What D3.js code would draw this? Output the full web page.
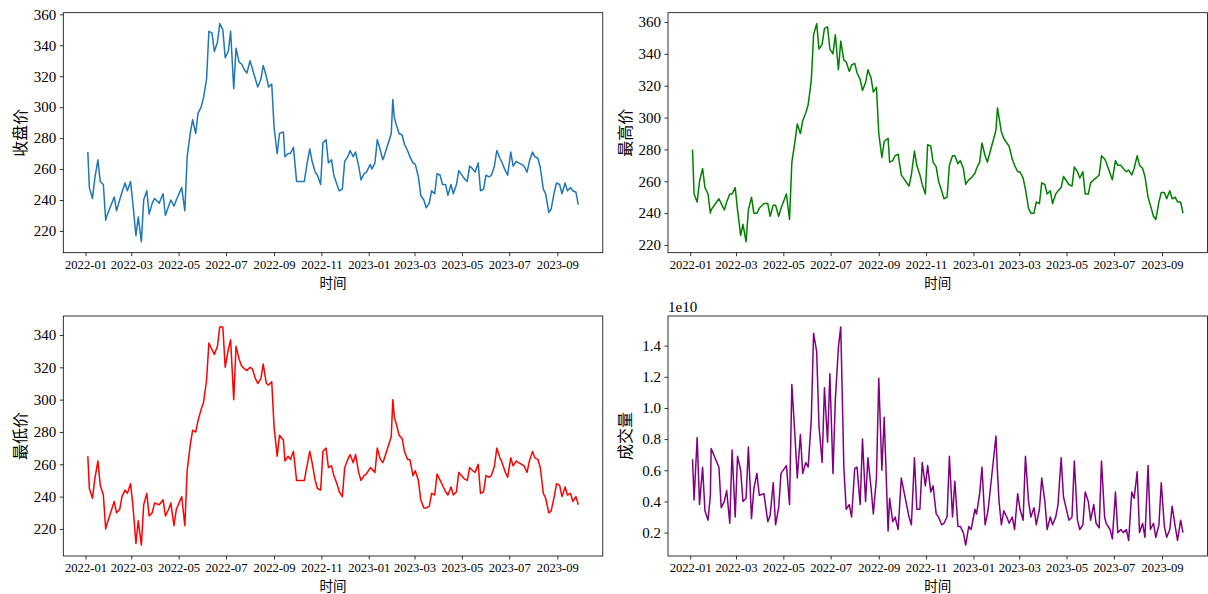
<!DOCTYPE html>
<html>
<head>
<meta charset="utf-8">
<script src="https://cdn.jsdelivr.net/npm/d3@7"></script>
<style>
  body { margin: 0; background: #fff; }
  .tick text { font-family: "Liberation Serif", "Times New Roman", serif; fill: #000; }
  .tick line { stroke: #000; stroke-width: 0.8; }
  .cjk { font-family: "Noto Sans CJK SC", sans-serif; fill: #000; }
</style>
</head>
<body>
<svg id="chart" width="1208" height="594"></svg>
<script>
// trading days (about two per week)
const dates = [
  '2022-01-04','2022-01-06','2022-01-10','2022-01-13','2022-01-17','2022-01-20','2022-01-24','2022-01-27','2022-01-28',
  '2022-02-07','2022-02-10','2022-02-14','2022-02-17','2022-02-21','2022-02-24','2022-02-28',
  '2022-03-03','2022-03-07','2022-03-10','2022-03-14','2022-03-17','2022-03-21','2022-03-24','2022-03-28','2022-03-31',
  '2022-04-06','2022-04-11','2022-04-14','2022-04-18','2022-04-21','2022-04-25','2022-04-28',
  '2022-05-05','2022-05-09','2022-05-12','2022-05-16','2022-05-19','2022-05-23','2022-05-26','2022-05-30',
  '2022-06-02','2022-06-06','2022-06-09','2022-06-13','2022-06-16','2022-06-20','2022-06-23','2022-06-27','2022-06-30',
  '2022-07-04','2022-07-07','2022-07-11','2022-07-14','2022-07-18','2022-07-21','2022-07-25','2022-07-28',
  '2022-08-01','2022-08-04','2022-08-08','2022-08-11','2022-08-15','2022-08-18','2022-08-22','2022-08-25','2022-08-29',
  '2022-09-01','2022-09-05','2022-09-08','2022-09-13','2022-09-15','2022-09-19','2022-09-22','2022-09-26','2022-09-30',
  '2022-10-10','2022-10-13','2022-10-17','2022-10-20','2022-10-24','2022-10-27','2022-10-31',
  '2022-11-03','2022-11-07','2022-11-10','2022-11-14','2022-11-17','2022-11-21','2022-11-24','2022-11-28',
  '2022-12-01','2022-12-05','2022-12-08','2022-12-12','2022-12-15','2022-12-19','2022-12-22','2022-12-26','2022-12-29',
  '2023-01-03','2023-01-05','2023-01-09','2023-01-12','2023-01-16','2023-01-19','2023-01-20','2023-01-30',
  '2023-02-01','2023-02-03','2023-02-06','2023-02-09','2023-02-13','2023-02-16','2023-02-20','2023-02-23','2023-02-27',
  '2023-03-02','2023-03-06','2023-03-09','2023-03-13','2023-03-16','2023-03-20','2023-03-23','2023-03-27','2023-03-30',
  '2023-04-03','2023-04-06','2023-04-10','2023-04-13','2023-04-17','2023-04-20','2023-04-24','2023-04-27',
  '2023-05-04','2023-05-08','2023-05-11','2023-05-15','2023-05-18','2023-05-22','2023-05-25','2023-05-29',
  '2023-06-01','2023-06-05','2023-06-08','2023-06-12','2023-06-15','2023-06-19','2023-06-21','2023-06-26','2023-06-29',
  '2023-07-03','2023-07-06','2023-07-10','2023-07-13','2023-07-17','2023-07-20','2023-07-24','2023-07-27','2023-07-31',
  '2023-08-03','2023-08-07','2023-08-10','2023-08-14','2023-08-17','2023-08-21','2023-08-24','2023-08-28','2023-08-31',
  '2023-09-04','2023-09-07','2023-09-11','2023-09-14','2023-09-18','2023-09-21','2023-09-25','2023-09-28'
];

const closePrice = [
  271,248,241,254,266,252,250,227,229,
  242,233,240,245,251,246,252,
  238,217,229,213,240,246,231,238,241,
  238,244,230,236,240,236,240,
  248,233,268,283,292,283,296,300,
  306,318,349,348,336,342,354,350,332,
  336,349,312,338,329,328,324,322,
  330,325,318,313,318,327,320,313,315,
  287,270,283,284,268,270,270,274,252,
  252,262,273,265,258,256,250,
  277,279,264,266,256,250,246,247,
  265,268,272,268,271,262,253,257,258,
  263,260,264,279,272,266,267,283,
  305,293,288,283,282,276,272,268,264,
  263,255,243,240,235,238,246,244,257,
  256,250,250,243,250,244,250,259,
  254,252,262,260,258,264,246,247,
  256,255,256,262,272,267,265,259,256,
  271,262,265,264,263,262,258,265,271,
  268,267,261,247,244,232,234,245,251,
  250,244,251,246,248,246,245,237
];

const highPrice = [
  280,252,247,260,268,256,252,240,242,
  249,246,242,247,252,252,256,
  242,226,233,222,242,250,240,240,243,
  246,246,238,245,245,238,243,
  252,236,272,285,296,290,298,303,
  308,323,352,359,343,346,356,357,343,
  340,352,330,348,336,335,329,333,
  334,328,324,317,322,330,325,316,319,
  290,275,285,287,272,273,276,277,264,
  257,264,279,270,264,258,252,
  283,282,272,269,260,254,249,250,
  270,276,276,271,273,268,258,261,262,
  265,268,272,284,276,272,274,292,
  306,300,291,287,284,282,274,270,266,
  266,262,255,243,240,240,247,246,259,
  258,252,254,246,252,254,256,263,
  258,257,269,266,262,266,252,252,
  259,261,262,264,276,274,272,265,261,
  273,270,270,268,266,267,264,268,276,
  270,268,263,250,245,238,236,247,253,
  253,249,254,249,250,247,247,240
];

const lowPrice = [
  265,245,239,251,262,247,241,220,222,
  237,230,232,240,244,242,248,
  235,211,225,210,235,242,228,230,236,
  235,238,228,232,236,222,232,
  240,222,256,272,281,280,287,294,
  298,312,335,331,328,333,345,345,320,
  331,337,300,333,325,321,319,318,
  320,319,313,310,313,322,310,309,311,
  283,265,278,275,262,265,263,268,250,
  250,258,268,261,250,245,244,
  268,270,258,259,253,248,243,240,
  258,263,266,261,266,255,250,253,254,
  258,257,255,270,263,261,262,277,
  300,289,284,278,276,268,263,263,253,
  256,250,238,233,233,234,242,241,254,
  250,247,243,241,246,241,243,255,
  251,250,258,256,255,260,242,243,
  253,252,253,259,270,264,262,255,252,
  264,259,262,261,260,259,255,262,268,
  264,263,258,242,239,230,231,240,248,
  247,240,246,241,242,237,240,235
];

// volume in units of 1e10
const volumeE10 = [
  0.67,0.41,0.81,0.38,0.62,0.34,0.28,0.44,0.74,
  0.62,0.36,0.40,0.47,0.26,0.73,0.30,
  0.69,0.60,0.40,0.42,0.75,0.29,0.48,0.58,0.44,
  0.45,0.27,0.31,0.52,0.25,0.36,0.58,
  0.63,0.38,1.15,0.82,0.55,0.83,0.58,0.65,
  0.62,0.92,1.48,1.36,0.88,0.65,1.13,0.78,1.22,
  0.58,1.05,1.39,1.52,0.62,0.35,0.38,0.30,
  0.61,0.62,0.38,0.80,0.40,0.68,0.49,0.32,0.55,
  1.19,0.60,0.94,0.21,0.42,0.27,0.30,0.22,0.55,
  0.30,0.25,0.68,0.35,0.35,0.65,0.50,
  0.63,0.46,0.50,0.32,0.30,0.25,0.26,0.30,
  0.69,0.30,0.53,0.24,0.24,0.20,0.12,0.24,0.22,
  0.35,0.32,0.45,0.62,0.25,0.32,0.35,0.82,
  0.58,0.40,0.25,0.34,0.30,0.26,0.30,0.22,0.45,
  0.35,0.28,0.69,0.40,0.30,0.36,0.25,0.35,0.55,
  0.40,0.22,0.30,0.25,0.30,0.38,0.68,0.43,
  0.28,0.30,0.66,0.28,0.22,0.25,0.46,0.40,
  0.28,0.38,0.26,0.23,0.66,0.30,0.26,0.22,0.16,
  0.46,0.20,0.22,0.20,0.22,0.15,0.46,0.42,0.59,
  0.20,0.26,0.17,0.63,0.22,0.26,0.17,0.25,0.52,
  0.24,0.17,0.22,0.37,0.24,0.15,0.28,0.20
];

const yLabels = ['收盘价', '最高价', '最低价', '成交量'];
const xLabel = '时间';

const svg = d3.select('#chart');
const times = dates.map(d3.timeParse('%Y-%m-%d'));

const panels = [
  { values: closePrice, color: '#1f77b4', label: yLabels[0], left: 63.3, top: 12.7, fmt: d3.format('d') },
  { values: highPrice,  color: 'green',   label: yLabels[1], left: 668,  top: 12.7, fmt: d3.format('d') },
  { values: lowPrice,   color: 'red',     label: yLabels[2], left: 63.3, top: 316,  fmt: d3.format('d') },
  { values: volumeE10,  color: 'purple',  label: yLabels[3], left: 668,  top: 316,  fmt: d3.format('.1f'), offset: '1e10' }
];
const w = 539.5, h = 240;

panels.forEach(p => {
  const g = svg.append('g').attr('transform', `translate(${p.left},${p.top})`);

  const tExt = d3.extent(times);
  const tPad = (tExt[1] - tExt[0]) * 0.05;
  const x = d3.scaleTime()
    .domain([new Date(+tExt[0] - tPad), new Date(+tExt[1] + tPad)])
    .range([0, w]);

  const vExt = d3.extent(p.values);
  const vPad = (vExt[1] - vExt[0]) * 0.05;
  const y = d3.scaleLinear()
    .domain([vExt[0] - vPad, vExt[1] + vPad])
    .range([h, 0]);

  const line = d3.line()
    .x((d, i) => x(times[i]))
    .y(d => y(d));

  g.append('path')
    .datum(p.values)
    .attr('d', line)
    .attr('fill', 'none')
    .attr('stroke', p.color)
    .attr('stroke-width', 1.5)
    .attr('stroke-linejoin', 'round');

  const xAxis = g.append('g')
    .attr('transform', `translate(0,${h})`)
    .call(d3.axisBottom(x)
      .ticks(d3.timeMonth.every(2))
      .tickFormat(d3.timeFormat('%Y-%m'))
      .tickSize(3.5)
      .tickPadding(3.5));
  xAxis.select('.domain').remove();
  xAxis.selectAll('.tick text').style('font-size', '12.6px');

  const yAxis = g.append('g')
    .call(d3.axisLeft(y)
      .ticks(8)
      .tickFormat(p.fmt)
      .tickSize(3.5)
      .tickPadding(3.5));
  yAxis.select('.domain').remove();
  yAxis.selectAll('.tick text').style('font-size', '15px');

  // frame
  g.append('rect')
    .attr('width', w)
    .attr('height', h)
    .attr('fill', 'none')
    .attr('stroke', '#000')
    .attr('stroke-width', 0.8);

  g.append('text')
    .attr('class', 'cjk')
    .attr('transform', `translate(-37,${h / 2}) rotate(-90)`)
    .attr('text-anchor', 'middle')
    .style('font-size', '16px')
    .text(p.label);

  g.append('text')
    .attr('class', 'cjk')
    .attr('x', w / 2)
    .attr('y', h + 35)
    .attr('text-anchor', 'middle')
    .style('font-size', '13.5px')
    .text(xLabel);

  if (p.offset) {
    g.append('text')
      .attr('x', 0)
      .attr('y', -4.5)
      .style('font-family', '"Liberation Serif", serif')
      .style('font-size', '15px')
      .text(p.offset);
  }
});
</script>
</body>
</html>
